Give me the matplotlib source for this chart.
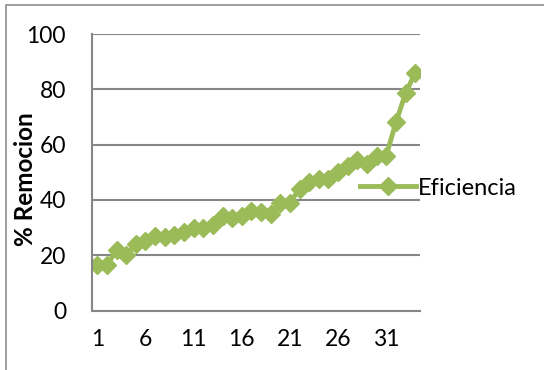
import matplotlib.pyplot as plt
from matplotlib.patches import Rectangle

plt.rcParams['font.family'] = ['Lato', 'DejaVu Sans']

muestra = list(range(1, 35))
eficiencia = [16.5, 16.3, 22, 20, 24, 25, 27, 26.5, 27.4, 28.4,
              30, 30, 31, 34, 33.4, 34, 36, 35.6, 35, 39,
              39, 44, 46.6, 47.6, 47.6, 50, 52.4, 54.4, 53, 56,
              56, 68, 78.5, 86]
yticks = [0, 20, 40, 60, 80, 100]
xticks = [1, 6, 11, 16, 21, 26, 31]

verde = '#9BBB59'
gris = '#868686'

fig = plt.figure(figsize=(5.44, 3.70), dpi=100)
ax = fig.add_axes([0.170, 0.1608, 0.602, 0.7473])

ax.plot(muestra, eficiencia, color=verde, lw=3.5, marker='D', ms=9,
        mec=verde, mfc=verde, label='Eficiencia', solid_joinstyle='round')

ax.set_xlim(0.5, 34.5)
ax.set_ylim(0, 100)
ax.set_yticks(yticks)
ax.set_xticks(xticks)
ax.tick_params(length=0, labelsize=16.5)
ax.tick_params(axis='y', pad=19)
ax.tick_params(axis='x', pad=13)
ax.yaxis.grid(True, color=gris, lw=1.5)
ax.set_axisbelow(True)
for s in ['top', 'right']:
    ax.spines[s].set_visible(False)
for s in ['left', 'bottom']:
    ax.spines[s].set_color(gris)
    ax.spines[s].set_linewidth(1.5)

ax.set_ylabel('% Remocion', fontsize=17.5, fontweight='bold')
ax.yaxis.set_label_coords((37 - 92.5) / 327.5, (310.5 - 179.5) / 276.5)

ax.legend(loc='center left', bbox_to_anchor=(0.817, 0.443), frameon=False,
          fontsize=17, handlelength=2.35, handletextpad=0.1, borderpad=0,
          borderaxespad=0)

# marco del grafico
fig.patches.append(Rectangle((6 / 544, -0.1), 2, 1.1 - 5 / 370,
                             transform=fig.transFigure, fill=False,
                             edgecolor='#8c8c8c', lw=1.2))

fig.savefig('out.png', dpi=100)
